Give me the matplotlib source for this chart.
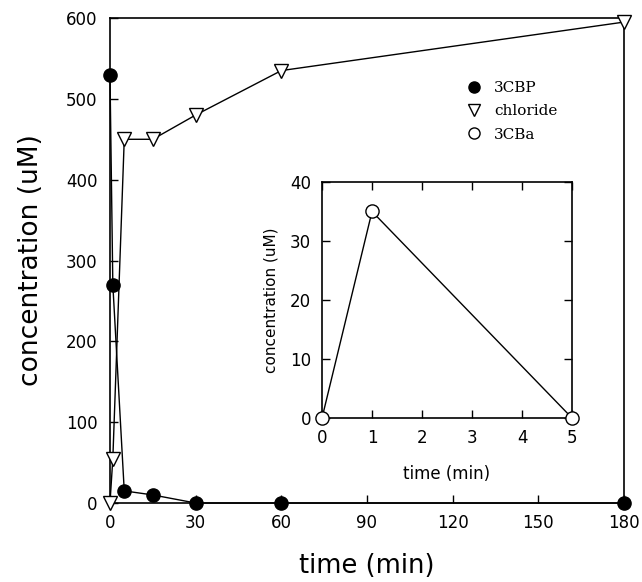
import matplotlib
matplotlib.use("Agg")
import matplotlib.pyplot as plt
from matplotlib.lines import Line2D

# data
tCBP = [0, 1, 5, 15, 30, 60, 180]
cCBP = [530, 270, 15, 10, 0, 0, 0]

tCl = [0, 1, 5, 15, 30, 60, 180]
cCl = [0, 55, 450, 450, 480, 535, 595]

tCBa = [0, 1, 5]
cCBa = [0, 35, 0]

mainXTicks = [0, 30, 60, 90, 120, 150, 180]
mainYTicks = [0, 100, 200, 300, 400, 500, 600]
insetXTicks = [0, 1, 2, 3, 4, 5]
insetYTicks = [0, 10, 20, 30, 40]

plt.rcParams['font.family'] = ['DejaVu Sans']

fig = plt.figure(figsize=(6.42, 5.82), dpi=100)
ax = fig.add_axes([0.1713, 0.1357, 0.8006, 0.8333])

ax.plot(tCBP, cCBP, color="black", lw=1.0, marker="o", ms=9.5,
        mfc="black", mec="black", clip_on=False, zorder=3)
ax.plot(tCl, cCl, color="black", lw=1.0, marker="v", ms=9.5,
        mfc="white", mec="black", mew=1.0, clip_on=False, zorder=3)

ax.set_xlim(0, 180)
ax.set_ylim(0, 600)
ax.set_xticks(mainXTicks)
ax.set_yticks(mainYTicks)
ax.tick_params(direction="in", length=6, width=1.0, labelsize=12)
ax.tick_params(axis="x", pad=8)
ax.tick_params(axis="y", pad=9)
for s in ax.spines.values():
    s.set_linewidth(1.2)
ax.set_xlabel("time (min)", fontsize=18.5, labelpad=15)
ax.set_ylabel("concentration (uM)", fontsize=19, labelpad=16)

handles = [
    Line2D([], [], ls="none", marker="o", ms=8, mfc="black", mec="black"),
    Line2D([], [], ls="none", marker="v", ms=8, mfc="white", mec="black"),
    Line2D([], [], ls="none", marker="o", ms=8, mfc="white", mec="black"),
]
ax.legend(handles, ["3CBP", "chloride", "3CBa"], loc="upper left",
          bbox_to_anchor=(0.667, 0.898), frameon=False, handlelength=1.0,
          handletextpad=0.8, labelspacing=0.6,
          prop={"family": "DejaVu Serif", "size": 11})

# inset
ins = fig.add_axes([0.5016, 0.2818, 0.3894, 0.4055])
ins.plot(tCBa, cCBa, color="black", lw=1.0, marker="o", ms=9.5,
         mfc="white", mec="black", mew=1.0, clip_on=False, zorder=3)
ins.set_xlim(0, 5)
ins.set_ylim(0, 40)
ins.set_xticks(insetXTicks)
ins.set_yticks(insetYTicks)
ins.tick_params(direction="in", length=6, width=1.0, labelsize=12,
                top=True, right=True, pad=8)
for s in ins.spines.values():
    s.set_linewidth(1.2)
ins.set_xlabel("time (min)", fontsize=12, labelpad=13)
ins.set_ylabel("concentration (uM)", fontsize=11, labelpad=8)

fig.savefig("out.png", dpi=100)
